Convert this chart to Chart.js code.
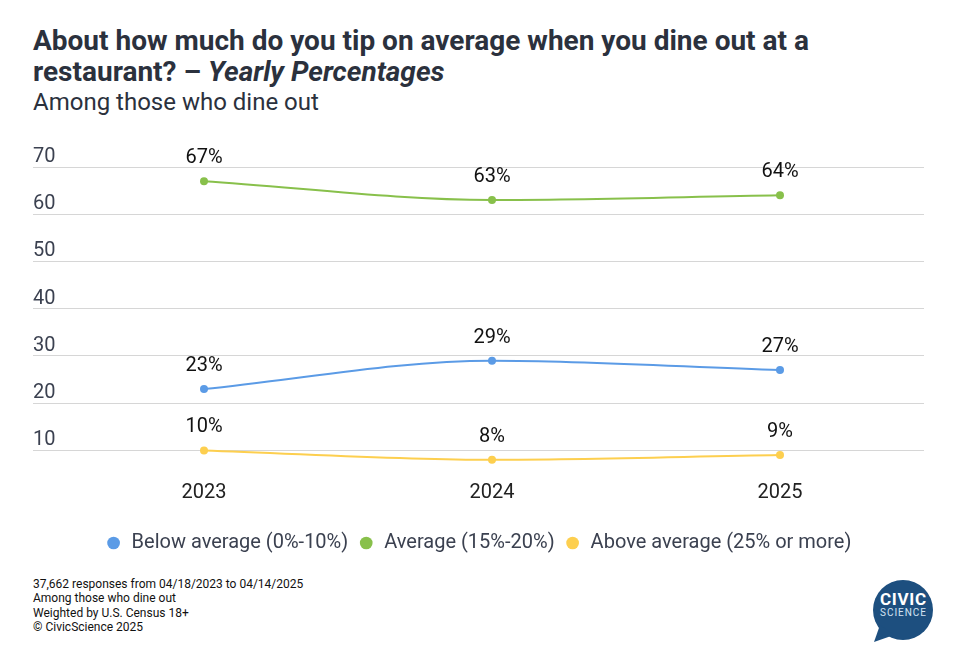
<!DOCTYPE html>
<html>
<head>
<meta charset="utf-8">
<script src="https://cdn.jsdelivr.net/npm/chart.js@4.4.1/dist/chart.umd.min.js"></script>
<style>
body{margin:0;width:966px;height:658px;background:#fff;font-family:Roboto,sans-serif;position:relative;overflow:hidden}
#title{position:absolute;left:33px;top:25px;font-size:28px;font-weight:bold;line-height:31px;color:#2b313d}
#sub{position:absolute;left:33px;top:88px;font-size:24px;color:#2b313d}
#wrap{position:absolute;left:0;top:130px;width:966px;height:433px}
#foot{position:absolute;left:33px;top:577px;font-size:12px;line-height:14.3px;color:#111}
#logo{position:absolute;left:868px;top:575px}
</style>
</head>
<body>
<div id="title">About how much do you tip on average when you dine out at a<br>restaurant? – <i>Yearly Percentages</i></div>
<div id="sub">Among those who dine out</div>
<div id="wrap"><canvas id="myChart"></canvas></div>
<div id="foot">37,662 responses from 04/18/2023 to 04/14/2025<br>Among those who dine out<br>Weighted by U.S. Census 18+<br>© CivicScience 2025</div>
<div id="logo">
<svg width="72" height="72" viewBox="0 0 72 72">
<circle cx="35" cy="35" r="30" fill="#1d4f7f"/>
<path d="M12 50 L6 67 L26 60 Z" fill="#1d4f7f"/>
<text x="35" y="30" font-family="Roboto" font-size="17" font-weight="bold" fill="#fff" text-anchor="middle" textLength="46">CIVIC</text>
<text x="35" y="41" font-family="Roboto" font-size="10" fill="#d4e3f2" text-anchor="middle" textLength="46">SCIENCE</text>
</svg>
</div>
<script>
const years = ['2023', '2024', '2025'];
const belowAverage = [23, 29, 27];
const average = [67, 63, 64];
const aboveAverage = [10, 8, 9];
const yTicks = [10, 20, 30, 40, 50, 60, 70];

// labels "67%" above every point
const pointLabels = {
    id: 'pointLabels',
    afterDatasetsDraw(chart) {
        const ctx = chart.ctx;
        ctx.save();
        ctx.font = '20px Roboto';
        ctx.fillStyle = '#111';
        ctx.textAlign = 'center';
        ctx.textBaseline = 'middle';
        chart.data.datasets.forEach((ds, i) => {
            chart.getDatasetMeta(i).data.forEach((pt, j) => {
                ctx.fillText(ds.data[j] + '%', pt.x, pt.y - 23);
            });
        });
        ctx.restore();
    }
};

const serie = (label, data, color) => ({
    label,
    data,
    borderColor: color,
    backgroundColor: color,
    pointBackgroundColor: color,
    pointBorderWidth: 0,
    pointRadius: 4,
    borderWidth: 2,
    cubicInterpolationMode: 'monotone'
});

const ctx = document.getElementById('myChart').getContext('2d');
new Chart(ctx, {
    type: 'line',
    data: {
        labels: years,
        datasets: [
            serie('Below average (0%-10%)', belowAverage, '#5b9be6'),
            serie('Average (15%-20%)', average, '#88c04b'),
            serie('Above average (25% or more)', aboveAverage, '#fdcf4f')
        ]
    },
    plugins: [pointLabels],
    options: {
        responsive: true,
        maintainAspectRatio: false,
        animation: false,
        layout: { padding: { top: 37, left: 33, right: 42, bottom: 0 } },
        scales: {
            x: {
                offset: true,
                grid: { display: false, drawTicks: false },
                border: { display: false },
                ticks: { color: '#222', font: { size: 20, family: 'Roboto' }, padding: 7 },
                afterFit: (a) => { a.height += 11; }
            },
            y: {
                min: 5,
                max: 70,
                afterBuildTicks: (a) => { a.ticks = yTicks.map(v => ({ value: v })); },
                afterFit: (a) => { a.width = 27; },
                grid: { color: '#d6d6d6', tickLength: 27, tickColor: '#d6d6d6' },
                border: { display: false },
                ticks: {
                    crossAlign: 'far',
                    labelOffset: -10,
                    padding: 0,
                    color: '#3b4150',
                    font: { size: 20, family: 'Roboto' }
                }
            }
        },
        plugins: {
            legend: {
                position: 'bottom',
                labels: {
                    usePointStyle: true,
                    pointStyle: 'circle',
                    boxWidth: 16,
                    boxHeight: 9,
                    padding: 10,
                    color: '#3b4150',
                    font: { size: 20, family: 'Roboto' }
                }
            },
            tooltip: { enabled: false }
        }
    }
});
</script>
</body>
</html>
